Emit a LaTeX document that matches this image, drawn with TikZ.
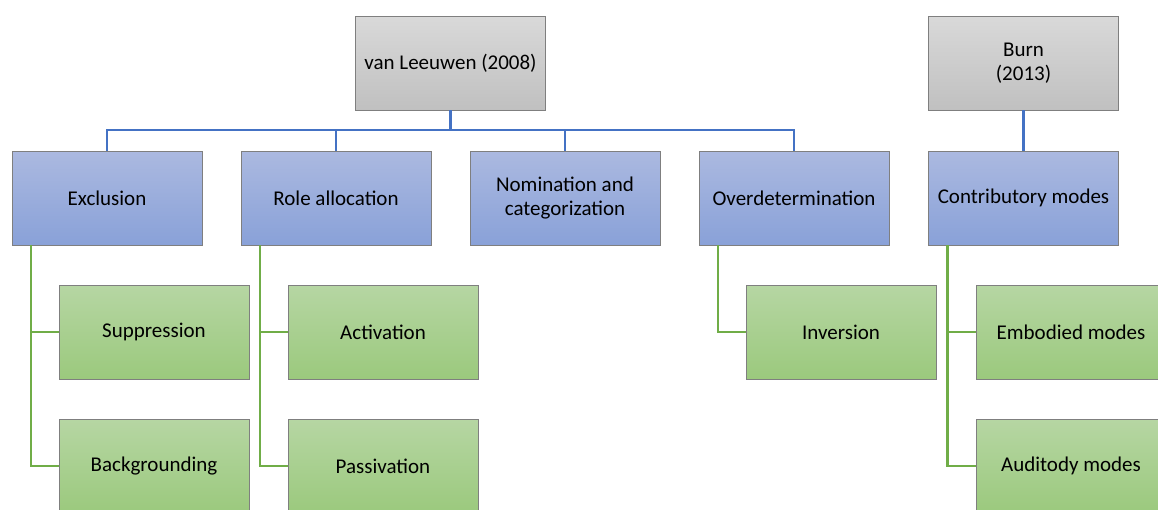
\documentclass[tikz,border=0pt]{standalone}
\usepackage{fontspec}
\setmainfont{Carlito}
\usepackage{tikz}
\usetikzlibrary{calc}

\definecolor{linkblue}{HTML}{4472C4}
\definecolor{linkgreen}{HTML}{70AD47}
\definecolor{boxedge}{HTML}{7F7F7F}

\tikzset{
    box/.style={draw=boxedge, line width=1pt, minimum width=190pt, minimum height=94pt,
        inner sep=2pt, outer sep=0pt, align=center, font=\fontsize{21}{24}\selectfont},
    greybox/.style={box, top color={rgb,255:red,217;green,217;blue,217}, bottom color={rgb,255:red,192;green,192;blue,192}},
    bluebox/.style={box, top color={rgb,255:red,171;green,185;blue,224}, bottom color={rgb,255:red,137;green,161;blue,216}},
    greenbox/.style={box, top color={rgb,255:red,182;green,214;blue,163}, bottom color={rgb,255:red,155;green,201;blue,125}},
    blueline/.style={linkblue, line width=2.8pt},
    greenline/.style={linkgreen, line width=2.8pt}
}

\begin{document}
\begin{tikzpicture}[x=1pt, y=-1pt]
    \useasboundingbox (0,0) rectangle (1158,509);
    \coordinate (bus) at (0,130);

    \node[greybox] (root) at (450.5,63) {van Leeuwen (2008)};
    \node[greybox] (burn) at (1023.5,63) {Burn\\(2013)};

    \node[bluebox] (excl) at (107,198) {Exclusion};
    \node[bluebox] (role) at (336,198) {Role allocation};
    \node[bluebox] (nomin) at (565,198) {Nomination and\\categorization};
    \node[bluebox] (overd) at (794,198) {Overdetermination};
    \node[bluebox] (contr) at (1023.5,198) {Contributory modes};

    \node[greenbox] (supp) at (154,332) {Suppression};
    \node[greenbox] (backg) at (154,466) {Backgrounding};
    \node[greenbox] (activ) at (383,332) {Activation};
    \node[greenbox] (passiv) at (383,466) {Passivation};
    \node[greenbox] (inver) at (841,332) {Inversion};
    \node[greenbox] (embod) at (1071,332) {Embodied modes};
    \node[greenbox] (audit) at (1071,466) {Auditody modes};

    % top level
    \foreach \c in {excl,role,nomin,overd}
        {\draw[blueline] (root.south) -- (root.south |- bus) -| (\c.north);}
    \draw[blueline] (burn) -- (contr);

    % sub items
    \foreach \p/\c in {excl/supp, excl/backg, role/activ, role/passiv, overd/inver, contr/embod, contr/audit}
        {\draw[greenline] ($(\p.south west)+(19,0)$) |- (\c.west);}
\end{tikzpicture}
\end{document}
